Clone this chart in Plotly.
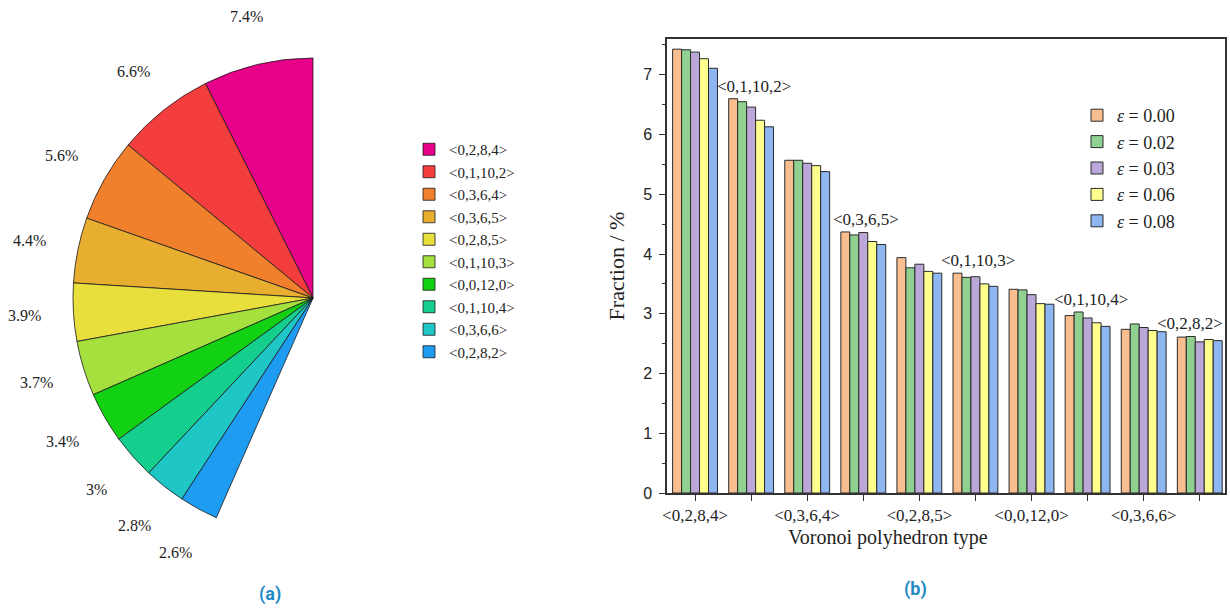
import math
import plotly.graph_objects as go

W, H = 1230, 608

# ---------------- data: pie (a) ----------------
pie_labels = ["<0,2,8,4>", "<0,1,10,2>", "<0,3,6,4>", "<0,3,6,5>", "<0,2,8,5>",
              "<0,1,10,3>", "<0,0,12,0>", "<0,1,10,4>", "<0,3,6,6>", "<0,2,8,2>"]
pie_values = [7.4, 6.6, 5.6, 4.4, 3.9, 3.7, 3.4, 3.0, 2.8, 2.6]
pie_text = ["7.4%", "6.6%", "5.6%", "4.4%", "3.9%", "3.7%", "3.4%", "3%", "2.8%", "2.6%"]
pie_colors = ["#E6008A", "#F43E3E", "#F0802C", "#E8AE30", "#E8DE3C",
              "#A6E03E", "#12D012", "#14CE8E", "#1EC6C6", "#1E9CF2"]

# ---------------- data: bars (b) ----------------
bar_categories = ["<0,2,8,4>", "<0,1,10,2>", "<0,3,6,4>", "<0,3,6,5>", "<0,2,8,5>",
                  "<0,1,10,3>", "<0,0,12,0>", "<0,1,10,4>", "<0,3,6,6>", "<0,2,8,2>"]
strain_labels = ["0.00", "0.02", "0.03", "0.06", "0.08"]
frac_000 = [7.43, 6.60, 5.57, 4.37, 3.94, 3.68, 3.41, 2.97, 2.74, 2.61]
frac_002 = [7.42, 6.55, 5.57, 4.32, 3.77, 3.61, 3.40, 3.03, 2.83, 2.62]
frac_003 = [7.38, 6.46, 5.52, 4.36, 3.83, 3.62, 3.32, 2.93, 2.77, 2.53]
frac_006 = [7.27, 6.24, 5.48, 4.21, 3.71, 3.50, 3.17, 2.85, 2.72, 2.57]
frac_008 = [7.11, 6.13, 5.38, 4.16, 3.68, 3.46, 3.16, 2.79, 2.70, 2.55]
bar_series = [frac_000, frac_002, frac_003, frac_006, frac_008]
bar_colors = ["#F9BE90", "#90D192", "#BCA8D8", "#FFFF8E", "#8EB6F0"]


def esc(s):
    return s.replace("<", "&lt;").replace(">", "&gt;")


SERIF = "Liberation Serif"
SANS = "Liberation Sans"
INK = "#222222"

fig = go.Figure()

# ---------------- pie ----------------
pie_dom_x = [73 / W, 553 / W]
pie_dom_y = [(H - 538) / H, (H - 58) / H]
rest = round(100 - sum(pie_values), 3)
total = sum(pie_values) + rest
# plotly puts the first counterclockwise slice to the right of 12 o'clock;
# turn it back so that the first slice starts at 12 o'clock going left
first_turn = -pie_values[0] / total * 360

fig.add_trace(go.Pie(
    labels=[esc(l) for l in pie_labels] + [" "],
    values=pie_values + [rest],
    sort=False,
    direction="counterclockwise",
    rotation=first_turn,
    textinfo="none",
    hoverinfo="label+value",
    marker=dict(colors=pie_colors + ["rgba(0,0,0,0)"],
                line=dict(color=["#1a1a1a"] * len(pie_values) + ["rgba(0,0,0,0)"],
                          width=[0.8] * len(pie_values) + [0])),
    domain=dict(x=pie_dom_x, y=pie_dom_y),
    legend="legend",
    showlegend=True,
))

# percentage labels around the fan, placed from the slice mid-angles
cx = (pie_dom_x[0] + pie_dom_x[1]) / 2 * W
cy = (1 - (pie_dom_y[0] + pie_dom_y[1]) / 2) * H
label_r = 289
cum = 0.0
for v, t in zip(pie_values, pie_text):
    mid = (cum + v / 2) / total * 2 * math.pi
    cum += v
    px = cx - label_r * math.sin(mid)
    py = cy - label_r * math.cos(mid)
    fig.add_annotation(x=px / W, y=1 - py / H, xref="paper", yref="paper",
                       text=t, showarrow=False, xanchor="center", yanchor="middle",
                       font=dict(family=SERIF, size=16, color=INK))

# ---------------- bars ----------------
xcats = [esc(c) for c in bar_categories]
for lab, vals, col in zip(strain_labels, bar_series, bar_colors):
    fig.add_trace(go.Bar(
        x=xcats, y=vals, name="<i>ε</i> = " + lab,
        marker=dict(color=col, line=dict(color="#2a2a2a", width=1)),
        legend="legend2",
    ))

# labels of the odd categories written above their bar groups
for i, c in enumerate(bar_categories):
    if i % 2 == 1:
        top = max(s[i] for s in bar_series)
        last = i == len(bar_categories) - 1
        fig.add_annotation(x=xcats[i], y=top, xref="x", yref="y", text=esc(c),
                           showarrow=False, xanchor="center", yanchor="bottom",
                           xshift=-10 if last else 3, yshift=1,
                           font=dict(family=SERIF, size=17, color=INK))

ticktext = [esc(c) if i % 2 == 0 else "" for i, c in enumerate(bar_categories)]

fig.update_layout(
    width=W, height=H,
    margin=dict(l=0, r=0, t=0, b=0, pad=0, autoexpand=False),
    paper_bgcolor="white", plot_bgcolor="white",
    barmode="group", bargap=0.2, bargroupgap=0,
    xaxis=dict(domain=[667 / W, 1225 / W], type="category", range=[-0.5, 9.45],
               automargin=False,
               tickmode="array", tickvals=xcats, ticktext=ticktext,
               ticks="outside", ticklen=6, tickwidth=1.2, tickcolor="#333",
               showline=True, linecolor="#333", linewidth=1.5, mirror=True,
               showgrid=False, zeroline=False,
               tickfont=dict(family=SERIF, size=17, color=INK)),
    yaxis=dict(domain=[(H - 493) / H, (H - 39) / H], range=[0, 7.6],
               automargin=False,
               tick0=0, dtick=1, ticks="outside", ticklen=6, tickwidth=1.2, tickcolor="#333",
               minor=dict(dtick=0.5, ticks="outside", ticklen=3, tickwidth=1, tickcolor="#333"),
               showline=True, linecolor="#333", linewidth=1.5, mirror=True,
               showgrid=False, zeroline=False, ticklabelstandoff=4,
               tickfont=dict(family=SANS, size=16, color=INK),
               title=dict(text="Fraction / %", standoff=12,
                          font=dict(family=SERIF, size=22, color=INK))),
    legend=dict(x=409 / W, y=1 - 133 / H, xanchor="left", yanchor="top",
                bgcolor="rgba(0,0,0,0)", borderwidth=0,
                font=dict(family=SERIF, size=15, color=INK)),
    legend2=dict(x=1077 / W, y=1 - 97 / H, xanchor="left", yanchor="top",
                 bgcolor="rgba(0,0,0,0)", borderwidth=0,
                 font=dict(family=SERIF, size=18, color=INK)),
    showlegend=True,
)

# axis title of (b) and panel letters
fig.add_annotation(x=888 / W, y=1 - 537 / H, xref="paper", yref="paper",
                   text="Voronoi polyhedron type", showarrow=False,
                   xanchor="center", yanchor="middle",
                   font=dict(family=SERIF, size=20, color=INK))
fig.add_annotation(x=270 / W, y=1 - 594 / H, xref="paper", yref="paper",
                   text="<b>(a)</b>", showarrow=False, xanchor="center", yanchor="middle",
                   font=dict(family="Roboto", size=18, color="#1F8AC4"))
fig.add_annotation(x=915 / W, y=1 - 589 / H, xref="paper", yref="paper",
                   text="<b>(b)</b>", showarrow=False, xanchor="center", yanchor="middle",
                   font=dict(family="Roboto", size=18, color="#1F8AC4"))

fig.write_html("out.html")
